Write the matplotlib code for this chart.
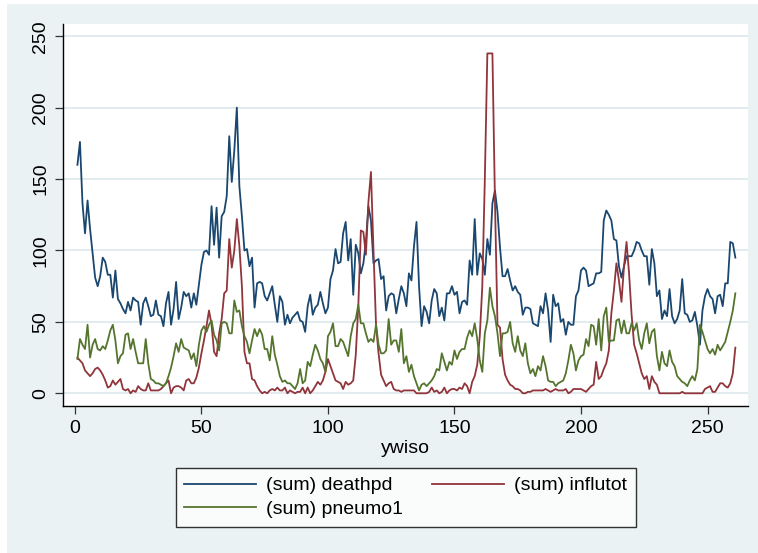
import numpy as np
import matplotlib.pyplot as plt
from matplotlib.patches import Rectangle

plt.rcParams["font.family"] = ["Liberation Sans", "DejaVu Sans"]

# weekly sums, weeks 1..261
deathpd = [
    160, 176, 133, 112, 135, 115, 98, 81, 75, 82,
    95, 92, 83, 83, 67, 86, 66, 63, 59, 56,
    64, 58, 67, 65, 64, 48, 63, 67, 61, 54,
    55, 65, 55, 54, 47, 63, 71, 48, 59, 78,
    52, 60, 71, 68, 70, 60, 70, 62, 76, 90,
    99, 100, 97, 131, 104, 130, 95, 124, 127, 138,
    180, 148, 170, 200, 145, 124, 100, 101, 89, 95,
    60, 77, 78, 77, 68, 65, 70, 75, 62, 50,
    68, 64, 48, 55, 49, 53, 55, 57, 51, 50,
    43, 61, 69, 55, 60, 62, 71, 63, 56, 60,
    80, 86, 101, 91, 92, 112, 120, 93, 108, 69,
    104, 98, 84, 91, 106, 131, 121, 91, 93, 94,
    80, 82, 58, 68, 70, 69, 56, 66, 75, 70,
    61, 84, 79, 103, 120, 75, 47, 61, 57, 49,
    65, 73, 70, 54, 60, 51, 70, 70, 75, 69,
    71, 56, 64, 65, 62, 93, 83, 122, 83, 98,
    94, 83, 108, 97, 133, 142, 127, 102, 82, 82,
    87, 79, 72, 75, 71, 69, 55, 60, 60, 59,
    49, 48, 47, 61, 56, 70, 58, 36, 69, 61,
    63, 50, 52, 41, 50, 48, 48, 68, 72, 86,
    88, 86, 75, 76, 77, 84, 84, 85, 121, 128,
    125, 121, 108, 107, 89, 81, 89, 96, 96, 96,
    100, 106, 105, 100, 96, 96, 76, 101, 91, 68,
    72, 52, 58, 54, 73, 54, 49, 52, 58, 80,
    56, 55, 50, 51, 57, 47, 34, 58, 68, 73,
    68, 66, 56, 68, 69, 61, 77, 77, 106, 105,
    95,
]

influtot = [
    25, 23, 21, 16, 14, 12, 14, 17, 18, 16,
    13, 9, 4, 5, 9, 6, 8, 10, 3, 2,
    3, 0, 2, 1, 5, 3, 2, 2, 7, 2,
    2, 2, 2, 3, 5, 7, 9, 0, 4, 5,
    5, 4, 2, 9, 10, 7, 7, 11, 18, 28,
    37, 47, 58, 48, 29, 26, 42, 52, 70, 72,
    108, 88, 100, 122, 103, 75, 29, 21, 21, 10,
    9, 5, 2, 0, 1, 0, 2, 3, 2, 4,
    2, 2, 4, 0, 2, 1, 0, 1, 1, 4,
    0, 4, 0, 2, 5, 8, 6, 9, 15, 24,
    19, 14, 9, 8, 7, 3, 8, 6, 7, 9,
    27, 61, 114, 113, 97, 134, 155, 100, 48, 28,
    13, 9, 5, 7, 8, 3, 2, 2, 1, 2,
    2, 2, 2, 2, 0, 0, 0, 0, 0, 1,
    4, 1, 2, 0, 1, 4, 0, 2, 3, 3,
    2, 4, 3, 7, 5, 0, 8, 12, 20, 40,
    75, 150, 238, 238, 238, 135, 48, 46, 24, 13,
    9, 6, 5, 3, 3, 2, 0, 0, 1, 1,
    2, 2, 2, 2, 2, 3, 2, 1, 2, 3,
    2, 2, 2, 3, 0, 1, 3, 3, 3, 3,
    2, 1, 3, 5, 6, 22, 10, 12, 17, 21,
    30, 56, 72, 91, 79, 64, 89, 106, 84, 55,
    34, 28, 21, 14, 10, 12, 3, 12, 8, 6,
    0, 0, 0, 0, 0, 0, 0, 0, 0, 1,
    0, 0, 0, 0, 0, 0, 0, 0, 3, 4,
    5, 1, 1, 4, 7, 7, 5, 4, 7, 14,
    32,
]

pneumo1 = [
    24, 38, 34, 31, 48, 25, 34, 38, 31, 30,
    33, 31, 37, 44, 48, 37, 21, 26, 28, 41,
    42, 31, 38, 29, 21, 21, 21, 38, 21, 10,
    9, 7, 7, 6, 5, 7, 12, 18, 26, 35,
    29, 38, 32, 31, 30, 24, 28, 19, 34, 44,
    47, 43, 48, 51, 41, 37, 30, 49, 50, 49,
    42, 42, 65, 57, 58, 47, 40, 36, 28, 37,
    45, 40, 45, 41, 31, 31, 23, 40, 27, 20,
    12, 8, 9, 7, 7, 5, 3, 7, 17, 7,
    9, 22, 19, 27, 34, 30, 24, 21, 15, 40,
    43, 49, 33, 33, 38, 36, 31, 26, 40, 49,
    52, 62, 49, 49, 42, 36, 38, 36, 48, 34,
    28, 28, 30, 52, 34, 37, 37, 29, 45, 21,
    26, 15, 20, 12, 7, 2, 6, 7, 5, 7,
    9, 12, 17, 16, 28, 22, 16, 22, 20, 30,
    24, 29, 31, 31, 39, 44, 40, 49, 38, 23,
    15, 42, 51, 74, 61, 54, 42, 26, 42, 42,
    43, 50, 35, 29, 40, 30, 26, 35, 21, 14,
    17, 12, 19, 16, 26, 19, 9, 8, 8, 5,
    7, 8, 9, 14, 23, 34, 28, 16, 23, 26,
    27, 38, 33, 48, 47, 34, 52, 30, 54, 60,
    36, 37, 37, 51, 52, 42, 51, 42, 42, 49,
    44, 49, 37, 31, 42, 49, 35, 43, 45, 26,
    16, 29, 21, 19, 30, 22, 19, 12, 10, 8,
    7, 5, 9, 12, 9, 17, 48, 43, 37, 31,
    28, 31, 27, 34, 30, 33, 36, 43, 50, 58,
    70,
]

ywiso = np.arange(1, len(deathpd) + 1)

navy = "#1a476f"
maroon = "#90353b"
forest = "#55752f"
bluish_gray = "#eaf2f3"

W, H = 758, 553
fig = plt.figure(figsize=(W / 100, H / 100), dpi=100, facecolor="white")
fig.patches.append(Rectangle((7 / W, 0), 1, (H - 4) / H, transform=fig.transFigure,
                             facecolor=bluish_gray, edgecolor="none", zorder=-10))

ax = fig.add_axes([63 / W, (H - 406) / H, (748 - 63) / W, (406 - 24) / H])
ax.set_facecolor("white")

l1, = ax.plot(ywiso, deathpd, color=navy, lw=1.3, label="(sum) deathpd")
l2, = ax.plot(ywiso, influtot, color=maroon, lw=1.3, label="(sum) influtot")
l3, = ax.plot(ywiso, pneumo1, color=forest, lw=1.3, label="(sum) pneumo1")

ax.set_xlim(-4.7, 266)
ax.set_ylim(-8.9, 258.6)
ax.set_xticks(range(0, 251, 50))
ax.set_yticks(range(0, 251, 50))
ax.yaxis.grid(True, color="#e2ecee", lw=1.4)
ax.set_axisbelow(True)

for side in ("top", "right"):
    ax.spines[side].set_visible(False)
for side in ("left", "bottom"):
    ax.spines[side].set_color("black")
    ax.spines[side].set_linewidth(1.0)

ax.tick_params(axis="both", labelsize=14, length=6, width=0.9, color="#333333")
ax.tick_params(axis="y", pad=4)
ax.tick_params(axis="x", pad=4)
for lab in ax.get_yticklabels():
    lab.set_rotation(90)
    lab.set_va("center")

ax.set_xlabel("ywiso", fontsize=14, labelpad=2)

# two-column legend: deathpd / influtot on the first row, pneumo1 below
leg = fig.legend([l1, l3, l2], ["(sum) deathpd", "(sum) pneumo1", "(sum) influtot"],
                 loc="upper center", bbox_to_anchor=(405.5 / W, 1 - 468 / H),
                 ncol=2, fontsize=14, frameon=True, fancybox=False,
                 handlelength=3.7, handletextpad=0.5, columnspacing=1.5,
                 labelspacing=0.3, borderpad=0.45, borderaxespad=0)
leg.get_frame().set_edgecolor("black")
leg.get_frame().set_linewidth(1.0)
leg.get_frame().set_facecolor("white")

fig.savefig("out.png", dpi=100, facecolor=fig.get_facecolor())
